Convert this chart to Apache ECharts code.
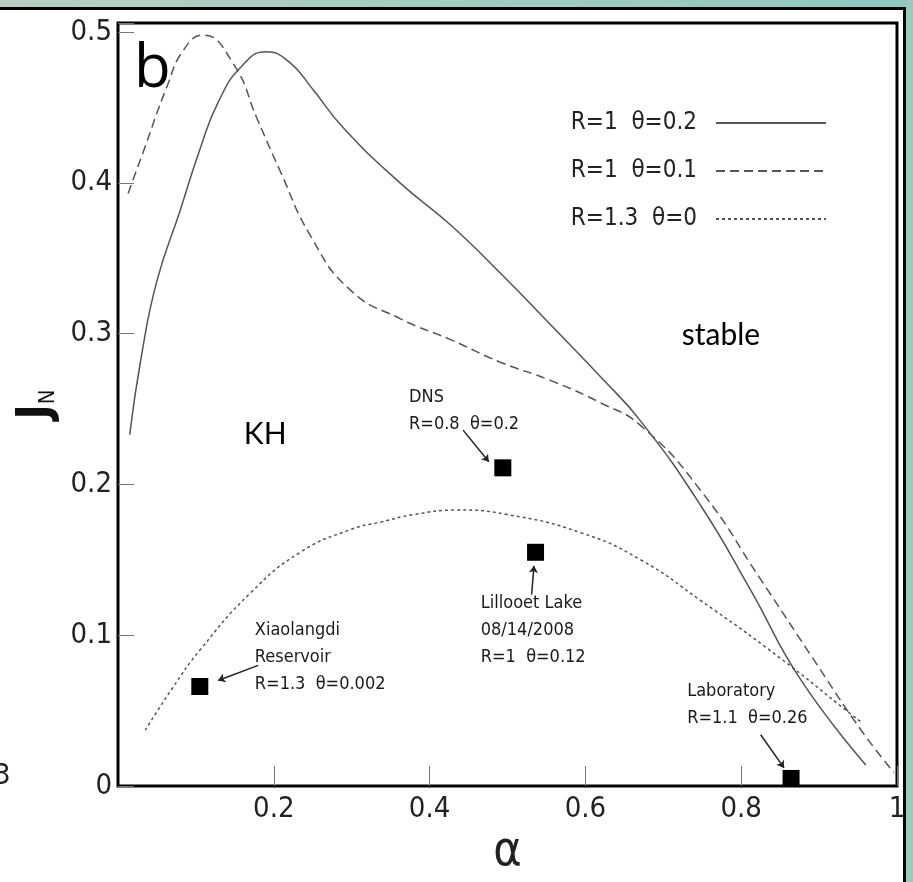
<!DOCTYPE html>
<html>
<head>
<meta charset="utf-8">
<script src="https://cdn.jsdelivr.net/npm/echarts@6/dist/echarts.min.js"></script>
<style>
  html, body { margin: 0; padding: 0; background: #fff; }
  #chart { width: 913px; height: 882px; }
</style>
</head>
<body>
<div id="chart"></div>
<script>
var chart = echarts.init(document.getElementById('chart'));

var narrow = "'Liberation Sans Narrow', 'DejaVu Sans Condensed', sans-serif";

// curves [alpha, J_N]
var solidCurve = [[0.015, 0.233], [0.030, 0.285], [0.050, 0.335], [0.080, 0.382], [0.105, 0.422],
    [0.130, 0.455], [0.160, 0.478], [0.190, 0.487], [0.220, 0.480], [0.250, 0.462], [0.290, 0.436],
    [0.362, 0.400], [0.427, 0.372], [0.491, 0.340], [0.555, 0.306], [0.620, 0.271], [0.671, 0.242],
    [0.748, 0.186], [0.812, 0.130], [0.877, 0.070], [0.960, 0.014]];
var dashedCurve = [[0.013, 0.393], [0.032, 0.420], [0.063, 0.464], [0.084, 0.488], [0.109, 0.498],
    [0.148, 0.479], [0.179, 0.442], [0.208, 0.408], [0.247, 0.365], [0.298, 0.329], [0.362, 0.310],
    [0.427, 0.296], [0.491, 0.281], [0.555, 0.269], [0.620, 0.254], [0.671, 0.239], [0.748, 0.196],
    [0.825, 0.137], [0.889, 0.087], [0.954, 0.037], [0.996, 0.009]];
var dottedCurve = [[0.035, 0.037], [0.070, 0.065], [0.105, 0.090], [0.170, 0.128], [0.234, 0.155],
    [0.298, 0.170], [0.337, 0.175], [0.380, 0.180], [0.435, 0.183], [0.500, 0.180], [0.594, 0.168],
    [0.671, 0.150], [0.748, 0.123], [0.847, 0.086], [0.940, 0.048], [0.955, 0.042]];
var curveNames = ['R=1  \u03b8=0.2', 'R=1  \u03b8=0.1', 'R=1.3  \u03b8=0'];

// observed cases
var cases = [[0.105, 0.066], [0.494, 0.211], [0.536, 0.155], [0.864, 0.005]];
var caseTexts = [
    'Xiaolangdi\nReservoir\nR=1.3  \u03b8=0.002',
    'DNS\nR=0.8  \u03b8=0.2',
    'Lillooet Lake\n08/14/2008\nR=1  \u03b8=0.12',
    'Laboratory\nR=1.1  \u03b8=0.26'
];
var caseTextAt = [[0.175, 0.085], [0.373, 0.249], [0.465, 0.103], [0.730, 0.054]];
var arrows = [
    [[0.180, 0.080], [0.1285, 0.070]],
    [[0.443, 0.236], [0.476, 0.215]],
    [[0.531, 0.127], [0.534, 0.146]],
    [[0.825, 0.034], [0.855, 0.012]]
];
var regionTexts = ['KH', 'stable'];
var regionAt = [[0.189, 0.233], [0.774, 0.299]];

var xTicks = [0, 0.2, 0.4, 0.6, 0.8, 1];
var yTicks = [0, 0.1, 0.2, 0.3, 0.4, 0.5];

var lineColor = '#555';

var option = {
    backgroundColor: '#fff',
    animation: false,
    grid: {
        left: 118, right: 16, top: 23, bottom: 96,
        show: true, borderColor: '#000', borderWidth: 3
    },
    legend: {
        orient: 'vertical',
        right: 81,
        top: 106,
        align: 'right',
        itemWidth: 110,
        itemHeight: 12,
        itemGap: 24,
        data: curveNames,
        itemStyle: { opacity: 0 },
        textStyle: { fontFamily: narrow, fontSize: 24, color: '#222', padding: [0, 14, 0, 0] }
    },
    xAxis: {
        type: 'value',
        min: xTicks[0], max: xTicks[xTicks.length - 1], interval: 0.2,
        axisLine: { show: false },
        splitLine: { show: false },
        axisTick: { inside: true, length: 20, lineStyle: { color: '#777' } },
        axisLabel: {
            showMinLabel: false, margin: 9,
            fontFamily: narrow, fontSize: 29, color: '#222',
            formatter: function (v) { return String(+v.toFixed(1)); }
        },
        name: '\u03b1',
        nameLocation: 'middle',
        nameGap: 42,
        nameTextStyle: { fontFamily: narrow, fontSize: 48, color: '#222' }
    },
    yAxis: {
        type: 'value',
        min: yTicks[0], max: 0.506, interval: 0.1,
        axisLine: { show: false },
        splitLine: { show: false },
        axisTick: { inside: true, length: 16, lineStyle: { color: '#777' } },
        axisLabel: {
            margin: 6,
            fontFamily: narrow, fontSize: 29, color: '#222',
            formatter: function (v) { return yTicks.indexOf(+v.toFixed(1)) >= 0 && Math.abs(v - +v.toFixed(1)) < 1e-6 ? String(+v.toFixed(1)) : ''; }
        },
        name: '{j|J}{n|N}',
        nameLocation: 'middle',
        nameRotate: 90,
        nameGap: 52,
        nameTextStyle: {
            rich: {
                j: { fontFamily: narrow, fontSize: 46, color: '#111', fontWeight: 'bold', verticalAlign: 'bottom' },
                n: { fontFamily: narrow, fontSize: 22, color: '#111', verticalAlign: 'bottom' }
            }
        }
    },
    graphic: [
        { type: 'rect', shape: { x: 0, y: 0, width: 913, height: 7 }, style: {
            fill: new echarts.graphic.LinearGradient(0, 0, 1, 0, [
                { offset: 0, color: '#b7cfc0' }, { offset: 1, color: '#8fc8c0' }]) } },
        { type: 'rect', shape: { x: 906, y: 0, width: 7, height: 882 }, style: { fill: '#9cc8bd' } },
        { type: 'rect', shape: { x: 0, y: 7, width: 906, height: 3 }, style: { fill: '#000' } },
        { type: 'rect', shape: { x: 903, y: 7, width: 3, height: 875 }, style: { fill: '#000' } },
        { type: 'text', left: -6, top: 762, style: { text: '3', fontFamily: narrow, fontSize: 29, fill: '#222' } }
    ],
    series: [
        {
            name: curveNames[0], type: 'line', smooth: true, symbol: 'none',
            lineStyle: { color: lineColor, width: 1.5, type: 'solid' },
            itemStyle: { color: lineColor },
            data: solidCurve
        },
        {
            name: curveNames[1], type: 'line', smooth: true, symbol: 'none',
            lineStyle: { color: lineColor, width: 1.5, type: [9, 5] },
            itemStyle: { color: lineColor },
            data: dashedCurve
        },
        {
            name: curveNames[2], type: 'line', smooth: true, symbol: 'none',
            lineStyle: { color: lineColor, width: 1.5, type: [3, 3] },
            itemStyle: { color: lineColor },
            data: dottedCurve
        },
        {
            type: 'lines', coordinateSystem: 'cartesian2d', silent: true,
            symbol: ['none', 'arrow'], symbolSize: 7,
            lineStyle: { color: '#222', width: 1.5, opacity: 1 },
            data: arrows.map(function (a) { return { coords: a }; })
        },
        {
            type: 'scatter', symbol: 'rect', symbolSize: 17, silent: true,
            itemStyle: { color: '#000', opacity: 1 },
            data: cases
        },
        {
            type: 'scatter', symbolSize: 1, silent: true,
            itemStyle: { color: 'rgba(0,0,0,0)', opacity: 1 },
            label: {
                show: true, position: 'right', distance: 0,
                fontFamily: narrow, fontSize: 18, lineHeight: 27, color: '#1a1a1a',
                formatter: function (p) { return caseTexts[p.dataIndex]; }
            },
            data: caseTextAt
        },
        {
            type: 'scatter', symbolSize: 1, silent: true,
            itemStyle: { color: 'rgba(0,0,0,0)', opacity: 1 },
            label: {
                show: true, position: 'inside',
                fontFamily: 'Lato, sans-serif', fontSize: 30, color: '#000',
                formatter: function (p) { return regionTexts[p.dataIndex]; }
            },
            data: regionAt
        },
        {
            type: 'scatter', symbolSize: 1, silent: true,
            itemStyle: { color: 'rgba(0,0,0,0)', opacity: 1 },
            label: {
                show: true, position: 'inside',
                fontFamily: "'Open Sans', sans-serif", fontSize: 60, color: '#000',
                formatter: 'b'
            },
            data: [[0.044, 0.475]]
        }
    ]
};
chart.setOption(option);
</script>
</body>
</html>
